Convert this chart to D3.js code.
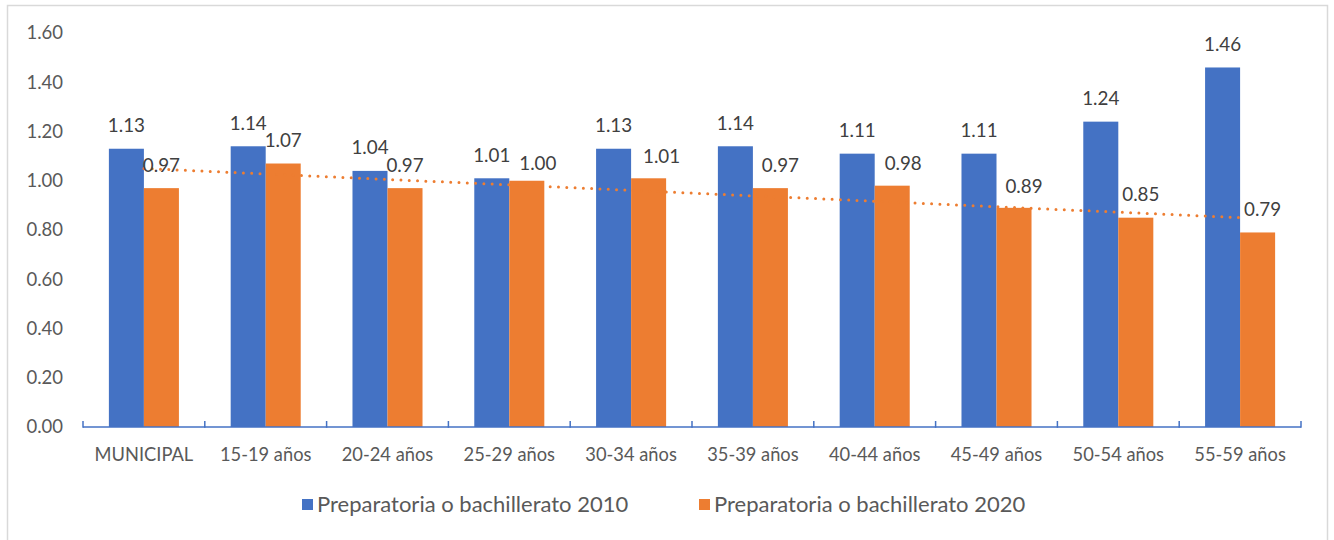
<!DOCTYPE html>
<html>
<head>
<meta charset="utf-8">
<script src="https://cdn.jsdelivr.net/npm/d3@7"></script>
<style>
  html, body { margin: 0; padding: 0; background: #fff; }
  svg { display: block; font-family: Lato, "Open Sans", sans-serif; }
</style>
</head>
<body>
<svg id="chart" width="1334" height="540"></svg>
<script>
// categories and series
const categories = ["MUNICIPAL", "15-19 años", "20-24 años", "25-29 años", "30-34 años",
  "35-39 años", "40-44 años", "45-49 años", "50-54 años", "55-59 años"];
const series = ["Preparatoria o bachillerato 2010", "Preparatoria o bachillerato 2020"];
const values2010 = [1.13, 1.14, 1.04, 1.01, 1.13, 1.14, 1.11, 1.11, 1.24, 1.46];
const values2020 = [0.97, 1.07, 0.97, 1.00, 1.01, 0.97, 0.98, 0.89, 0.85, 0.79];
const yTicks = [0, 0.2, 0.4, 0.6, 0.8, 1.0, 1.2, 1.4, 1.6];

// label nudges (Excel moved some 2020 labels sideways to avoid overlaps)
const labelShift2020 = [0, 0, 0, 11, 13, 10, 11, 10, 5, 5];
const labelLift2020 = [23, 23, 23, 17, 22, 23, 22, 21, 23, 23];

const colors = ["#4472C4", "#ED7D31"];

const svg = d3.select("#chart");

// chart frame
svg.append("rect")
  .attr("x", 7.5).attr("y", 5.5).attr("width", 1320).attr("height", 560)
  .attr("fill", "none").attr("stroke", "#d9d9d9").attr("stroke-width", 1.5);

const y = d3.scaleLinear().domain([0, 1.6]).range([427, 33]);
const x0 = d3.scaleBand().domain(categories).range([83, 1301])
  .paddingInner(0.425).paddingOuter(0.2125);
const x1 = d3.scaleBand().domain(series).range([0, x0.bandwidth()]);

// y tick labels (no axis line, no gridlines)
svg.append("g").selectAll("text").data(yTicks).join("text")
  .attr("x", 63).attr("y", d => y(d)).attr("dy", "0.35em")
  .attr("text-anchor", "end").attr("fill", "#595959").attr("font-size", 18.5)
  .text(d => d.toFixed(2));

const rows = categories.map((c, i) => ({ cat: c, i, vals: [values2010[i], values2020[i]] }));

// bars
const groups = svg.append("g").selectAll("g").data(rows).join("g")
  .attr("transform", d => `translate(${x0(d.cat)},0)`);

groups.selectAll("rect")
  .data(d => d.vals.map((v, k) => ({ v, k, s: series[k] })))
  .join("rect")
  .attr("x", d => x1(d.s)).attr("width", x1.bandwidth())
  .attr("y", d => y(d.v)).attr("height", d => y(0) - y(d.v))
  .attr("fill", d => colors[d.k]);

// x axis: blue line, inside ticks at category boundaries
const step = x0.step();
const axis = svg.append("g");
axis.append("line")
  .attr("x1", 83).attr("x2", 1301).attr("y1", 427).attr("y2", 427)
  .attr("stroke", "#4472C4").attr("stroke-width", 1.5);
axis.selectAll("line.tick").data(d3.range(categories.length + 1)).join("line")
  .attr("class", "tick")
  .attr("x1", i => 83 + i * step).attr("x2", i => 83 + i * step)
  .attr("y1", 421).attr("y2", 427.75)
  .attr("stroke", "#4472C4").attr("stroke-width", 1.5);
axis.selectAll("text").data(categories).join("text")
  .attr("x", d => x0(d) + x0.bandwidth() / 2).attr("y", 455).attr("dy", "0.35em")
  .attr("text-anchor", "middle").attr("fill", "#595959").attr("font-size", 18.3)
  .text(d => d);

// linear trend of the 2020 series
const n = values2020.length;
const xs = d3.range(1, n + 1);
const mx = d3.mean(xs), my = d3.mean(values2020);
const slope = d3.sum(xs, (xv, i) => (xv - mx) * (values2020[i] - my)) / d3.sum(xs, xv => (xv - mx) ** 2);
const icpt = my - slope * mx;
const trend = xs.map((xv, i) => [x0(categories[i]) + x0.bandwidth() / 2, y(icpt + slope * xv)]);
svg.append("path")
  .attr("d", d3.line()(trend))
  .attr("fill", "none").attr("stroke", "#ED7D31").attr("stroke-width", 3)
  .attr("stroke-linecap", "round").attr("stroke-dasharray", "0 8.3");

// data labels
const labels = svg.append("g").attr("fill", "#404040").attr("font-size", 18.8).attr("text-anchor", "middle");
labels.selectAll("text.a").data(rows).join("text").attr("class", "a")
  .attr("x", d => x0(d.cat) + x1(series[0]) + x1.bandwidth() / 2)
  .attr("y", d => y(d.vals[0]) - 23).attr("dy", "0.35em")
  .text(d => d.vals[0].toFixed(2));
labels.selectAll("text.b").data(rows).join("text").attr("class", "b")
  .attr("x", d => x0(d.cat) + x1(series[1]) + x1.bandwidth() / 2 + labelShift2020[d.i])
  .attr("y", d => y(d.vals[1]) - labelLift2020[d.i]).attr("dy", "0.35em")
  .text(d => d.vals[1].toFixed(2));

// legend
const legendX = [302, 699];
const legend = svg.append("g").selectAll("g").data(series).join("g")
  .attr("transform", (d, i) => `translate(${legendX[i]},499)`);
legend.append("rect").attr("width", 11).attr("height", 11)
  .attr("fill", (d, i) => colors[i]);
legend.append("text").attr("x", 15).attr("y", 5.5).attr("dy", "0.35em")
  .attr("fill", "#595959").attr("font-size", 22).text(d => d);
</script>
</body>
</html>
